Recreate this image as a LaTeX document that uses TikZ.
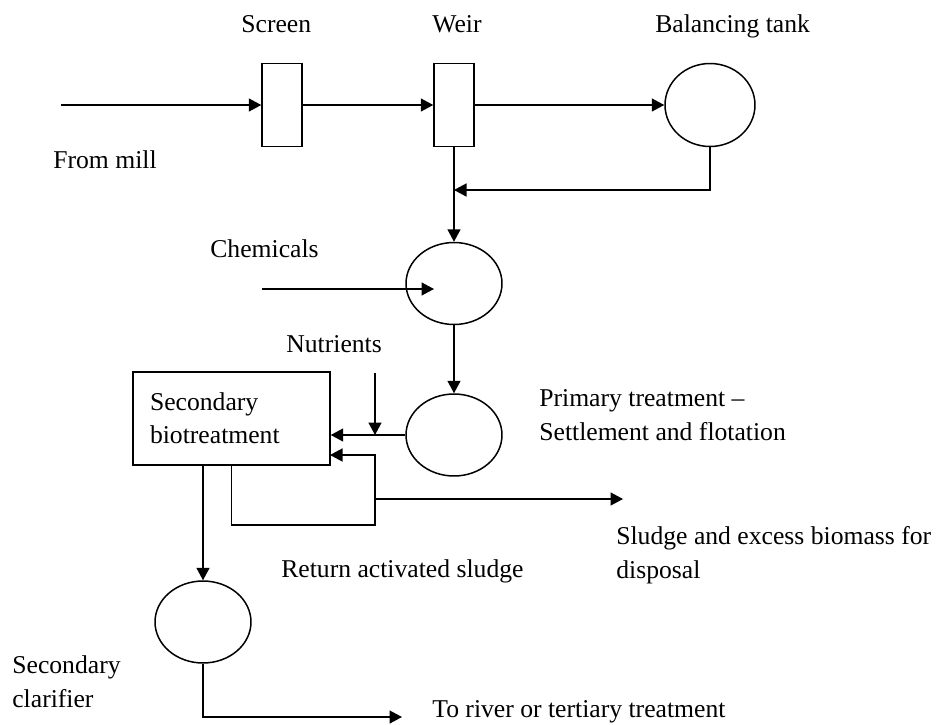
\documentclass[tikz,border=0pt]{standalone}
\usepackage{fontspec}
\setmainfont{Liberation Serif}
\usetikzlibrary{shapes.geometric,arrows.meta}

\tikzset{
  unit/.style={draw, line width=0.85pt, inner sep=0pt},
  screenbox/.style={unit, rectangle, minimum width=0.8cm, minimum height=1.66cm},
  tankshape/.style={unit, ellipse, minimum width=1.92cm, minimum height=1.64cm},
  flow/.style={line width=0.85pt, -{Triangle[length=0.25cm,width=0.26cm]}},
  lbl/.style={inner sep=0pt, anchor=base west, align=left}
}

\begin{document}
\begin{tikzpicture}[x=0.02cm, y=-0.02cm, font=\fontsize{14.6}{19}\selectfont]
\useasboundingbox (0,0) rectangle (937,724);

% Screen, weir and balancing tank
\node[screenbox] (screen) at (282,105) {};
\node[screenbox] (weir) at (454,105) {};
\node[tankshape, minimum width=1.8cm, minimum height=1.66cm] (tank) at (710,105) {};

\node[lbl] (screenlbl) at (241,32) {Screen};
\node[lbl] (weirlbl) at (432,32) {Weir};
\node[lbl] (tanklbl) at (655,32) {Balancing tank};
\node[lbl] (milllbl) at (53,168) {From mill};

\coordinate (mill) at (61,105);
\draw[flow] (mill) -- (screen.west);
\draw[flow] (screen.east) -- (weir.west);
\draw[flow] (weir.east) -- (tank.west);

% Chemical dosing
\node[tankshape] (chem) at (454,283.5) {};
\coordinate (join) at (454,190);
\draw[flow] (weir.south) -- (chem.north);
\draw[flow] (tank.south) |- (join);

\node[lbl] (chemlbl) at (210,257) {Chemicals};
\coordinate (chemin) at (262,289);
\coordinate (chemtip) at (434,289);
\draw[flow] (chemin) -- (chemtip);

% Primary treatment
\node[tankshape] (primary) at (454,435) {};
\draw[flow] (chem.south) -- (primary.north);
\node[lbl] (primlbl) at (539,440) {Primary treatment \textendash\\Settlement and flotation};

% Secondary biotreatment
\node[unit, rectangle, inner xsep=0.34cm, text width=3.26cm, minimum height=1.86cm, align=left] (bio) at (231.5,418.5) {Secondary\\biotreatment};
\draw[flow] (primary.west) -- (primary.west -| bio.east);

\node[lbl] (nutlbl) at (286,352) {Nutrients};
\coordinate (nut) at (375,373);
\draw[flow] (nut) -- (nut |- primary.west);

% Return activated sludge and wasting
\coordinate (rasturn) at (375,525);
\coordinate (rasin) at (330,455);
\draw[flow] (bio.south) |- (rasturn) |- (rasin);

\coordinate (split) at (375,499);
\coordinate (sludge) at (623,499);
\draw[flow] (split) -- (sludge);

\node[lbl] (raslbl) at (281,577) {Return activated sludge};
\node[lbl] (sludgelbl) at (616,578) {Sludge and excess biomass for\\disposal};

% Secondary clarifier
\node[tankshape] (clar) at (203,622) {};
\draw[flow] (clar.north |- bio.south) -- (clar.north);
\node[lbl] (clarlbl) at (12,707) {Secondary\\clarifier};

\coordinate (river) at (402,717);
\draw[flow] (clar.south) |- (river);
\node[lbl] (riverlbl) at (432,717) {To river or tertiary treatment};

\end{tikzpicture}
\end{document}
